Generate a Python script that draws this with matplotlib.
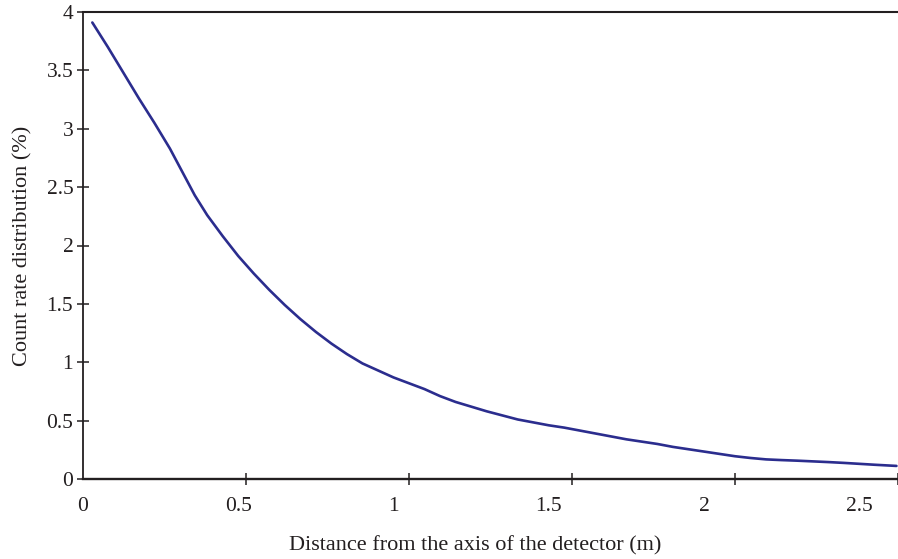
import matplotlib
matplotlib.use("Agg")
import matplotlib.pyplot as plt

# Data
distance_m = [0.03, 0.08, 0.13, 0.18, 0.23, 0.28, 0.32, 0.36, 0.40, 0.45, 0.50,
              0.55, 0.60, 0.65, 0.70, 0.75, 0.80, 0.85, 0.90, 0.95, 1.00, 1.05,
              1.10, 1.15, 1.20, 1.25, 1.30, 1.35, 1.40, 1.45, 1.50, 1.55, 1.60,
              1.65, 1.70, 1.75, 1.80, 1.85, 1.90, 1.95, 2.00, 2.05, 2.10, 2.15,
              2.20, 2.25, 2.30, 2.35, 2.40, 2.45, 2.50, 2.55, 2.62]
count_rate_pct = [3.91, 3.70, 3.48, 3.26, 3.05, 2.83, 2.63, 2.43, 2.26, 2.08, 1.91,
                  1.76, 1.62, 1.49, 1.37, 1.26, 1.16, 1.07, 0.99, 0.93, 0.87, 0.82,
                  0.77, 0.71, 0.66, 0.62, 0.58, 0.545, 0.51, 0.485, 0.46, 0.44, 0.415,
                  0.39, 0.365, 0.34, 0.32, 0.30, 0.275, 0.255, 0.235, 0.215, 0.195, 0.18,
                  0.168, 0.162, 0.157, 0.151, 0.145, 0.138, 0.13, 0.122, 0.112]

x_tick_labels = ["0", "0.5", "1", "1.5", "2", "2.5"]
x_tick_values = [0, 0.5, 1, 1.5, 2, 2.5]
y_tick_values = [0, 0.5, 1, 1.5, 2, 2.5, 3, 3.5, 4]
y_tick_labels = ["0", "0.5", "1", "1.5", "2", "2.5", "3", "3.5", "4"]
x_mark_values = [0, 0.525, 1.05, 1.575, 2.1, 2.625]

plt.rcParams['font.family'] = ['Liberation Serif', 'DejaVu Serif']
text_color = '#231f20'

fig = plt.figure(figsize=(8.98, 5.59), dpi=100)
ax = fig.add_axes([83/898, 80/559, 815/898, 467/559])

ax.plot(distance_m, count_rate_pct, color='#2b2d8e', lw=1.9,
        solid_capstyle='round', solid_joinstyle='round')

ax.set_xlim(0, 2.625)
ax.set_ylim(0, 4)

ax.set_xticks(x_tick_values)
ax.set_xticklabels(x_tick_labels)
ax.set_xticks(x_mark_values, minor=True)
ax.tick_params(axis='x', which='major', length=0, pad=13, labelsize=15.5, colors=text_color)
ax.tick_params(axis='x', which='minor', direction='inout', length=8, width=1.1, color=text_color)

ax.set_yticks(y_tick_values)
ax.set_yticklabels(y_tick_labels)
ax.tick_params(axis='y', which='major', direction='inout', length=8, width=1.1,
               pad=3, labelsize=15.5, colors=text_color)

for side in ['left', 'bottom', 'top']:
    ax.spines[side].set_color(text_color)
ax.spines['left'].set_linewidth(1.3)
ax.spines['bottom'].set_linewidth(1.7)
ax.spines['top'].set_linewidth(1.5)
ax.spines['right'].set_visible(False)

ax.set_xlabel("Distance from the axis of the detector (m)", fontsize=16,
              color=text_color)
ax.xaxis.set_label_coords(0.481, -0.122)
ax.set_ylabel("Count rate distribution (%)", fontsize=16, color=text_color, labelpad=10)

fig.savefig("out.png", dpi=100)
